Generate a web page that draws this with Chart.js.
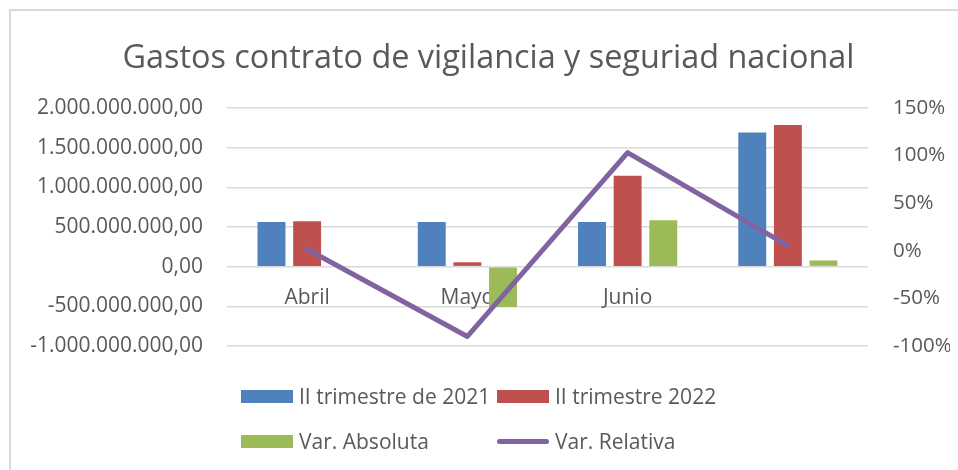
<!DOCTYPE html>
<html>
<head>
<meta charset="utf-8">
<script src="https://cdn.jsdelivr.net/npm/chart.js@4/dist/chart.umd.min.js"></script>
<style>
  body { margin: 0; background: #fff; }
  #wrap { position: relative; width: 958px; height: 470px; overflow: hidden; }
  #frame { position: absolute; left: 9px; top: 9px; width: 1000px; height: 1000px; border: 2px solid #d9d9d9; }
  #grafico { position: absolute; left: 0; top: 0; }
  #leyenda { position: absolute; left: 241px; top: 382px; display: grid; grid-template-columns: 256px auto; row-gap: 17px;
             font-family: "Open Sans", sans-serif; font-size: 21px; color: #595959; }
  .item { display: flex; align-items: center; height: 28px; }
  .marca { width: 52px; margin-right: 6px; }
</style>
</head>
<body>
<div id="wrap">
  <div id="frame"></div>
  <canvas id="grafico" width="958" height="470"></canvas>
  <div id="leyenda"></div>
</div>
<script>
// datos
const categorias = ['Abril', 'Mayo', 'Junio', ''];
const trimestre2021 = [563e6, 563e6, 563e6, 1690e6];
const trimestre2022 = [572e6, 55e6, 1145e6, 1785e6];
const varAbsoluta = [0, -508e6, 585e6, 78e6];
const varRelativa = [1.6, -90, 103, 5.3];   // %

const ejeIzq = { min: -1e9, max: 2e9, paso: 5e8 };
const ejeDer = { min: -100, max: 150, paso: 50 };

const fuente = '"Open Sans", sans-serif';
const gris = '#595959';

// 2.000.000.000,00
function formatoPesos(v) {
    const neg = v < 0;
    const ent = Math.abs(Math.round(v)).toString().replace(/\B(?=(\d{3})+(?!\d))/g, '.');
    return (neg ? '-' : '') + ent + ',00';
}

const chart = new Chart(document.getElementById('grafico'), {
    type: 'bar',
    data: {
        labels: categorias,
        datasets: [
            { label: 'II trimestre de 2021', data: trimestre2021, backgroundColor: '#4f81bd', order: 1 },
            { label: 'II trimestre 2022', data: trimestre2022, backgroundColor: '#c0504d', order: 1 },
            { label: 'Var. Absoluta', data: varAbsoluta, backgroundColor: '#9bbb59', order: 1 },
            {
                type: 'line', label: 'Var. Relativa', data: varRelativa, yAxisID: 'y1',
                borderColor: '#8064a2', backgroundColor: '#8064a2', borderWidth: 5,
                pointRadius: 0, tension: 0, borderCapStyle: 'round', borderJoinStyle: 'round', order: 0
            }
        ]
    },
    options: {
        responsive: false,
        animation: false,
        barPercentage: 0.784,
        categoryPercentage: 0.667,
        layout: { padding: { left: 27, right: 8, top: 10, bottom: 124 } },
        plugins: {
            legend: { display: false },
            tooltip: { enabled: false },
            title: {
                display: true,
                text: 'Gastos contrato de vigilancia y seguriad nacional',
                color: gris,
                font: { family: fuente, size: 32.4, weight: 'normal' },
                padding: { top: 29, bottom: 30 }
            }
        },
        scales: {
            x: {
                position: { y: 0 },
                grid: { display: false },
                border: { display: false },
                ticks: { color: gris, font: { family: fuente, size: 21 }, padding: 11 }
            },
            y: {
                position: 'left',
                min: ejeIzq.min, max: ejeIzq.max,
                grid: { color: '#d9d9d9', lineWidth: 1.5, drawTicks: false },
                border: { display: false },
                ticks: { stepSize: ejeIzq.paso, callback: formatoPesos, padding: 24, color: gris, font: { family: fuente, size: 21 } },
                afterFit: s => { s.width = 200; }
            },
            y1: {
                position: 'right',
                min: ejeDer.min, max: ejeDer.max,
                grid: { display: false, drawTicks: false },
                border: { display: false },
                ticks: { stepSize: ejeDer.paso, callback: v => v + '%', padding: 25, color: gris, font: { family: fuente, size: 20.5 } },
                afterFit: s => { s.width = 82; }
            }
        }
    }
});

// leyenda en dos columnas como en Excel
const leyenda = document.getElementById('leyenda');
chart.data.datasets.forEach(ds => {
    const item = document.createElement('div');
    item.className = 'item';
    const marca = document.createElement('span');
    marca.className = 'marca';
    if (ds.type === 'line') {
        marca.style.height = '5px';
        marca.style.borderRadius = '3px';
    } else {
        marca.style.height = '13px';
    }
    marca.style.background = ds.backgroundColor;
    item.appendChild(marca);
    item.appendChild(document.createTextNode(ds.label));
    leyenda.appendChild(item);
});
</script>
</body>
</html>
